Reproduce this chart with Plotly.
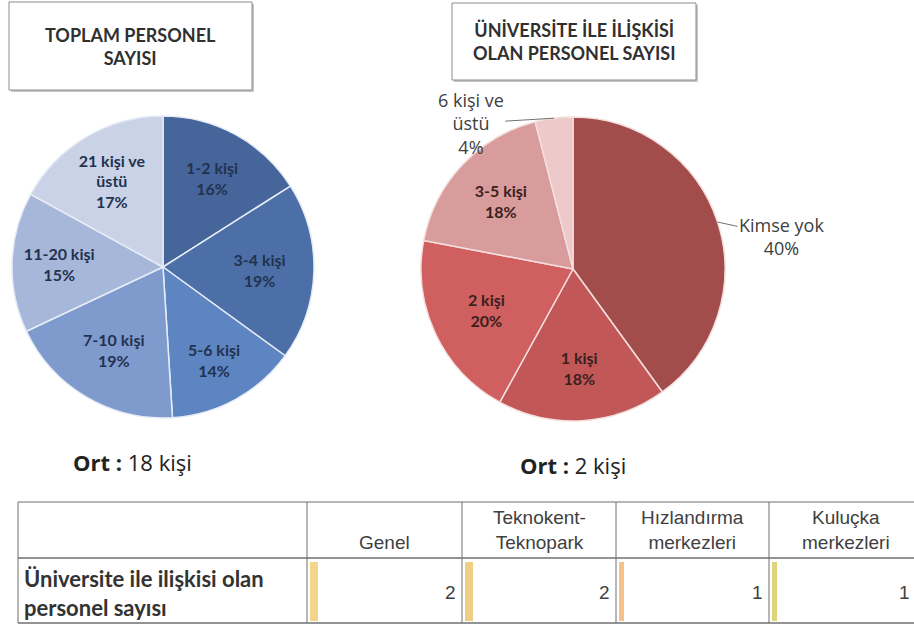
import math
import plotly.graph_objects as go

# --- data -----------------------------------------------------------------
toplam_labels = ["1-2 kişi", "3-4 kişi", "5-6 kişi", "7-10 kişi", "11-20 kişi", "21 kişi ve üstü"]
toplam_values = [16, 19, 14, 19, 15, 17]
toplam_colors = ["#45659b", "#4c6fa7", "#5c85c2", "#7f9bcd", "#a6b7d9", "#c9d2e6"]

iliski_labels = ["Kimse yok", "1 kişi", "2 kişi", "3-5 kişi", "6 kişi ve üstü"]
iliski_values = [40, 18, 20, 18, 4]
iliski_colors = ["#a24c4c", "#c15857", "#d05f5f", "#d99c9c", "#eec9c9"]
iliski_outside = ["Kimse yok", "6 kişi ve üstü"]

ort_toplam = 18
ort_iliski = 2

table_columns = ["Genel", "Teknokent-<br>Teknopark", "Hızlandırma<br>merkezleri", "Kuluçka<br>merkezleri"]
table_row_label = "Üniversite ile ilişkisi olan<br>personel sayısı"
table_values = [2, 2, 1, 1]
bar_colors = ["#f2d58a", "#f0cf84", "#f6c28c", "#ddd47c"]

# --- layout helpers ---------------------------------------------------------
W, H = 914, 629


def px(x):
    return x / W


def py(y):
    return 1 - y / H


def wrap(label):
    return label.replace(" ve ", " ve<br>")


fig = go.Figure()

# left pie
lc, lr = (163, 267), 151
fig.add_trace(go.Pie(
    labels=toplam_labels, values=toplam_values, sort=False, direction="clockwise",
    rotation=0, text=[wrap(l) for l in toplam_labels],
    texttemplate="%{text}<br>%{percent:.0%}", textposition="inside",
    insidetextorientation="horizontal",
    textfont=dict(family="Lato", size=16, color="#23324f", weight="bold"),
    marker=dict(colors=toplam_colors, line=dict(color="#e6ecf6", width=1.5)),
    domain=dict(x=[px(lc[0] - lr), px(lc[0] + lr)], y=[py(lc[1] + lr), py(lc[1] - lr)]),
    hoverinfo="label+percent", showlegend=False,
))

# right pie
rc, rr = (573, 269), 152
fig.add_trace(go.Pie(
    labels=iliski_labels, values=iliski_values, sort=False, direction="clockwise",
    rotation=0, text=["" if l in iliski_outside else wrap(l) for l in iliski_labels],
    texttemplate=["" if l in iliski_outside else "%{text}<br>%{percent:.0%}" for l in iliski_labels],
    textposition="inside", insidetextorientation="horizontal",
    textfont=dict(family="Lato", size=16, color="#3a2020", weight="bold"),
    marker=dict(colors=iliski_colors, line=dict(color="#f4dede", width=1.5)),
    domain=dict(x=[px(rc[0] - rr), px(rc[0] + rr)], y=[py(rc[1] + rr), py(rc[1] - rr)]),
    hoverinfo="label+percent", showlegend=False,
))

annotations = []
shapes = []

# outside labels with leader lines, anchored at the slice's mid-angle on the rim
total = sum(iliski_values)
offsets = {"Kimse yok": (64, 14), "6 kişi ve üstü": (-83, 5)}
cum = 0
for lab, v in zip(iliski_labels, iliski_values):
    mid = (cum + v / 2) / total * 2 * math.pi
    cum += v
    if lab not in iliski_outside:
        continue
    ex = rc[0] + rr * math.sin(mid)
    ey = rc[1] - rr * math.cos(mid)
    ax, ay = offsets[lab]
    annotations.append(dict(
        x=px(ex), y=py(ey), xref="paper", yref="paper",
        text=wrap(lab) + "<br>" + f"{round(100 * v / total)}%",
        showarrow=True, arrowhead=0, arrowwidth=1, arrowcolor="#707070",
        ax=ax, ay=ay, standoff=0,
        font=dict(family="Open Sans", size=18, color="#404040"),
    ))

# title boxes
title_boxes = [
    ((9, 2, 252, 90), "TOPLAM PERSONEL<br>SAYISI"),
    ((452, 3, 696, 80), "ÜNİVERSİTE İLE İLİŞKİSİ<br>OLAN PERSONEL SAYISI"),
]
for (x0, y0, x1, y1), txt in title_boxes:
    shapes.append(dict(type="rect", xref="paper", yref="paper",
                       x0=px(x0 + 2), x1=px(x1 + 2), y0=py(y1 + 2), y1=py(y0 + 2),
                       line=dict(width=0), fillcolor="#c4c4c4", layer="below"))
    shapes.append(dict(type="rect", xref="paper", yref="paper",
                       x0=px(x0), x1=px(x1), y0=py(y1), y1=py(y0),
                       line=dict(color="#8c8c8c", width=1), fillcolor="white", layer="below"))
    annotations.append(dict(
        x=px((x0 + x1) / 2), y=py((y0 + y1) / 2), xref="paper", yref="paper",
        xanchor="center", yanchor="middle",
        text=f"<b>{txt}</b>", showarrow=False,
        font=dict(family="Lato", size=18, color="#303030"),
    ))

# averages
for (cx, cy), val in [((132, 462), ort_toplam), ((573, 465), ort_iliski)]:
    annotations.append(dict(
        x=px(cx), y=py(cy), xref="paper", yref="paper", showarrow=False,
        xanchor="center", yanchor="middle",
        text=f"<b>Ort :</b> {val} kişi",
        font=dict(family="Open Sans", size=22, color="#222222"),
    ))

# table
col_edges = [18, 307, 462, 616, 769, 923]
row_edges = [502, 558, 623]
line_col = "#6f6f6f"
for x in col_edges:
    shapes.append(dict(type="line", xref="paper", yref="paper",
                       x0=px(x), x1=px(x), y0=py(row_edges[0]), y1=py(row_edges[-1]),
                       line=dict(color=line_col, width=1)))
for y in row_edges:
    shapes.append(dict(type="line", xref="paper", yref="paper",
                       x0=px(col_edges[0]), x1=px(col_edges[-1]), y0=py(y), y1=py(y),
                       line=dict(color=line_col, width=1.5 if y != row_edges[0] else 1)))

for i, name in enumerate(table_columns):
    x0, x1 = col_edges[i + 1], col_edges[i + 2]
    annotations.append(dict(
        x=px((x0 + x1) / 2), y=py(row_edges[1] - 3), xref="paper", yref="paper",
        xanchor="center", yanchor="bottom", showarrow=False, text=name,
        font=dict(family="Liberation Sans", size=19, color="#404040"),
    ))
    v = table_values[i]
    shapes.append(dict(type="rect", xref="paper", yref="paper",
                       x0=px(x0 + 3), x1=px(x0 + 3 + 3 * v + 2),
                       y0=py(row_edges[2] - 2), y1=py(row_edges[1] + 4),
                       line=dict(width=0), fillcolor=bar_colors[i]))
    annotations.append(dict(
        x=px(min(x1 - 4, W - 2)), y=py((row_edges[1] + row_edges[2]) / 2 + 2),
        xref="paper", yref="paper",
        xanchor="right", yanchor="middle", showarrow=False, text=str(v),
        font=dict(family="Liberation Sans", size=19, color="#404040"),
    ))

annotations.append(dict(
    x=px(22), y=py((row_edges[1] + row_edges[2]) / 2 + 2), xref="paper", yref="paper",
    xanchor="left", yanchor="middle", align="left", showarrow=False,
    text=f"<b>{table_row_label}</b>",
    font=dict(family="Lato", size=22, color="#333333"),
))

fig.update_layout(
    width=W, height=H, margin=dict(l=0, r=0, t=0, b=0),
    paper_bgcolor="white", plot_bgcolor="white",
    shapes=shapes, annotations=annotations, showlegend=False,
)

fig.write_html("out.html", config={"displayModeBar": False},
               post_script="document.body.style.margin='0';")
